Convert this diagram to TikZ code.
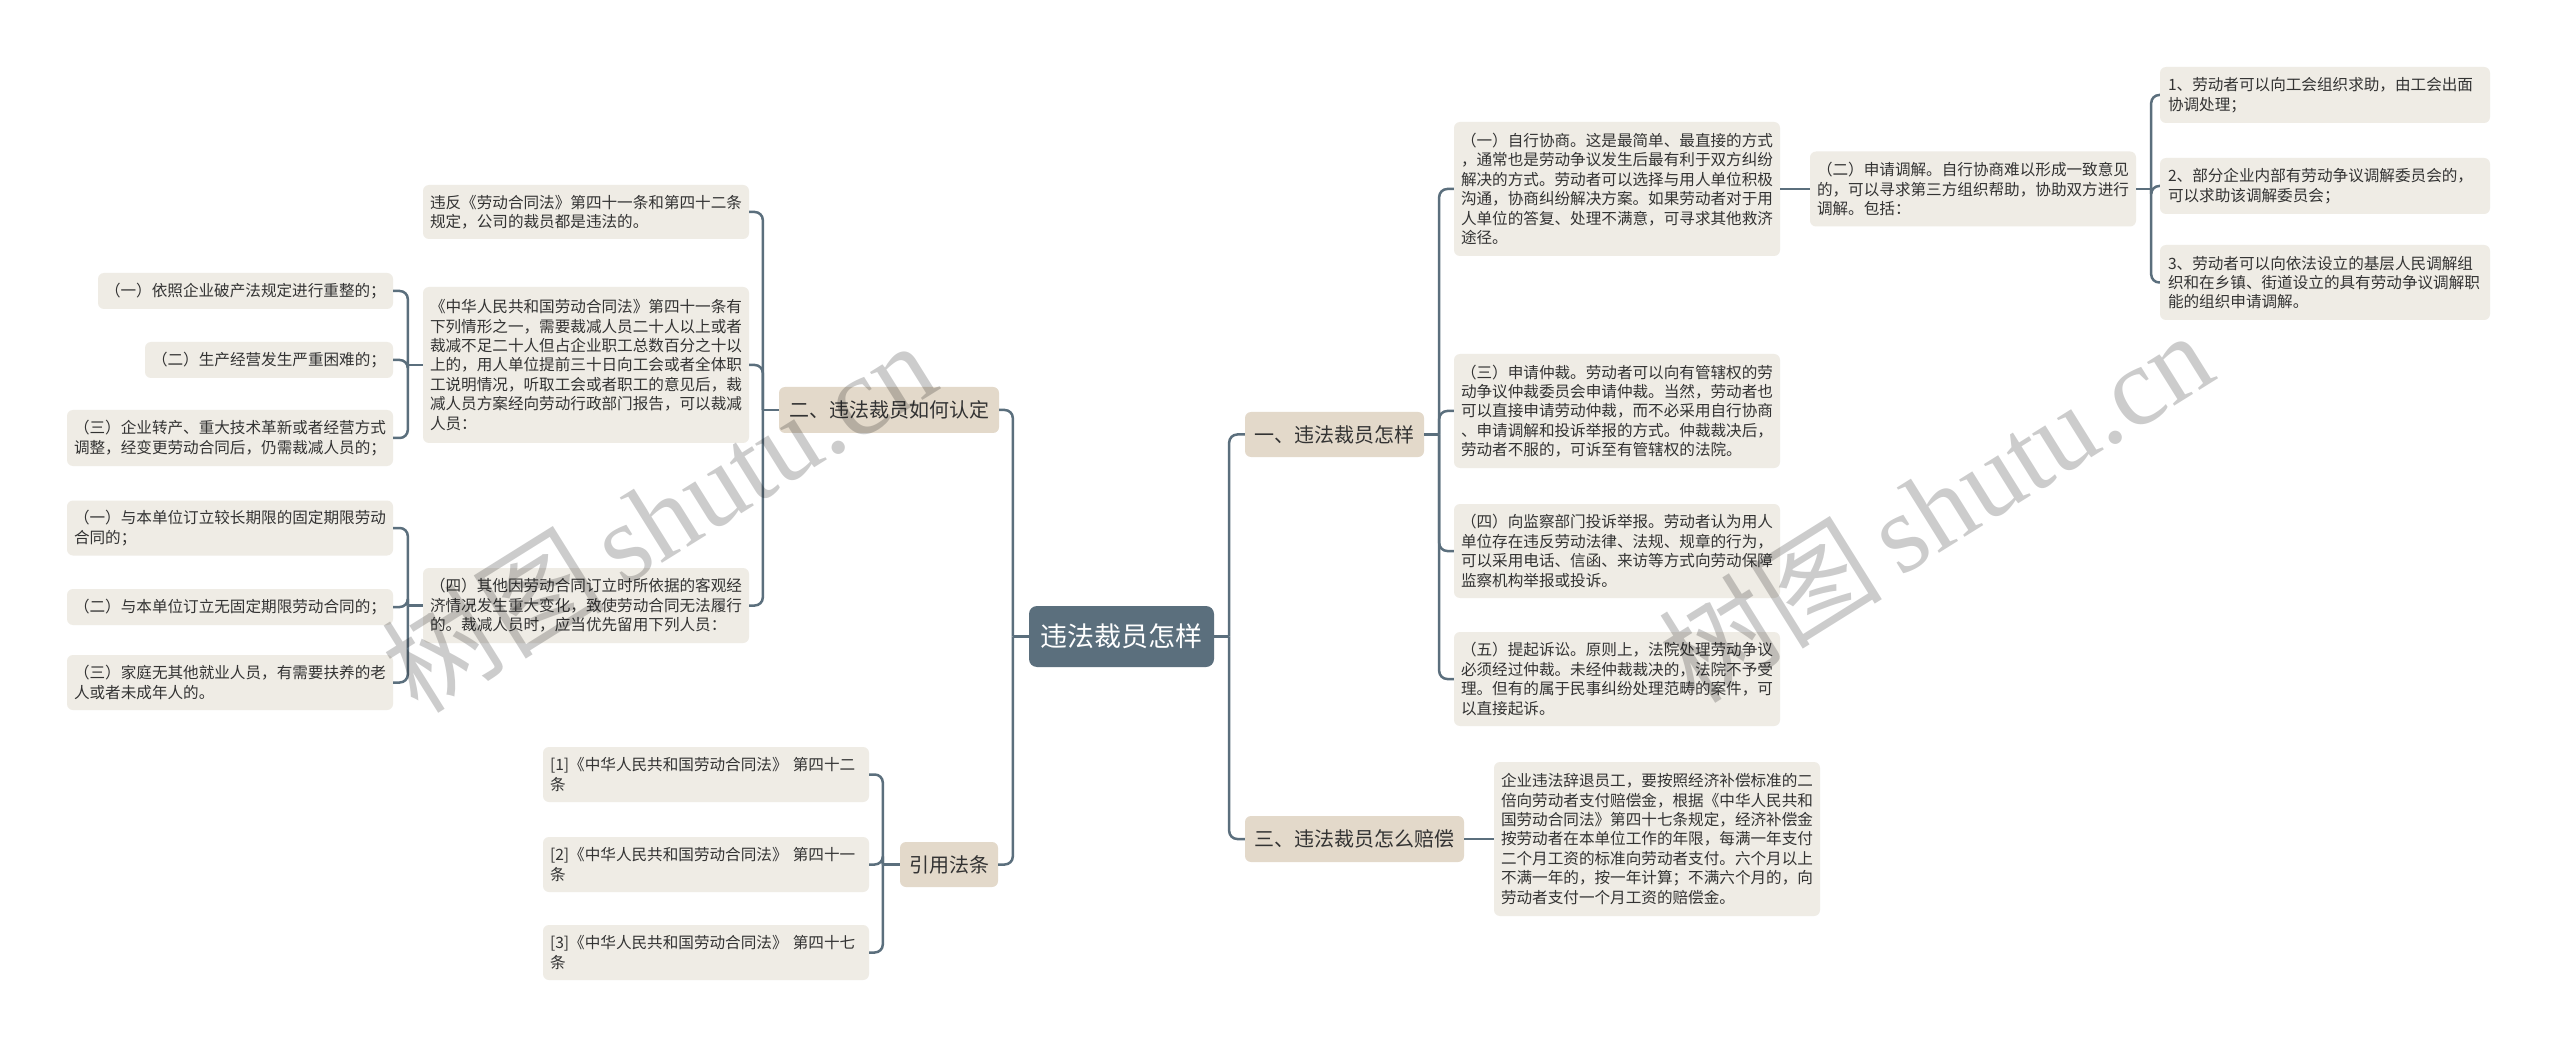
\documentclass[tikz,border=0pt]{standalone}
\usepackage{fontspec}
\setmainfont{Noto Sans CJK SC}
\newfontfamily\wmserif{Liberation Serif}
\definecolor{rootc}{HTML}{5B6F7D}
\definecolor{branchc}{HTML}{E3D9CA}
\definecolor{leafc}{HTML}{EFECE5}
\definecolor{txtc}{HTML}{333333}
\begin{document}
\begin{tikzpicture}[x=1pt,y=-1pt,
  box/.style={rounded corners=6pt, inner sep=0pt, text=txtc},
  leaf/.style={box, fill=leafc, align=left, font=\fontsize{15.6}{19.4}\selectfont},
  branch/.style={box, fill=branchc, align=center, font=\fontsize{20}{24}\selectfont},
  rootnode/.style={rounded corners=8pt, inner sep=0pt, fill=rootc, text=white, font=\fontsize{27}{32}\selectfont},
  conn/.style={draw=rootc, line width=2.5pt, rounded corners=8pt},
  wm/.style={text=black, text opacity=0.2, font=\fontsize{112}{116}\selectfont, inner sep=0pt}
]
\useasboundingbox (0,0) rectangle (2560,1048);
\fill[white] (0,0) rectangle (2560,1048);

% root and branches
\node[rootnode, minimum width=185pt, minimum height=61pt] (root) at (1121.5,636.5) {违法裁员怎样};
\node[branch, minimum width=179pt, minimum height=45pt] (b1) at (1334.5,434.5) {一、违法裁员怎样};
\node[branch, minimum width=219pt, minimum height=46pt] (b3) at (1354.5,839) {三、违法裁员怎么赔偿};
\node[branch, minimum width=220pt, minimum height=46pt] (b2) at (889,410) {二、违法裁员如何认定};
\node[branch, minimum width=98pt, minimum height=45pt] (b4) at (949,864.5) {引用法条};

% right leaves
\node[leaf, minimum width=326pt, minimum height=134pt, text width=312pt] (ra) at (1617,189) {（一）自行协商。这是最简单、最直接的方式\\，通常也是劳动争议发生后最有利于双方纠纷\\解决的方式。劳动者可以选择与用人单位积极\\沟通，协商纠纷解决方案。如果劳动者对于用\\人单位的答复、处理不满意，可寻求其他救济\\途径。};
\node[leaf, minimum width=326pt, minimum height=75pt, text width=312pt] (rb) at (1973,189) {（二）申请调解。自行协商难以形成一致意见\\的，可以寻求第三方组织帮助，协助双方进行\\调解。包括：};
\node[leaf, minimum width=330pt, minimum height=56pt, text width=314pt] (f1) at (2325,95) {1、劳动者可以向工会组织求助，由工会出面\\协调处理；};
\node[leaf, minimum width=330pt, minimum height=56pt, text width=314pt] (f2) at (2325,186) {2、部分企业内部有劳动争议调解委员会的，\\可以求助该调解委员会；};
\node[leaf, minimum width=330pt, minimum height=75pt, text width=314pt] (f3) at (2325,282.5) {3、劳动者可以向依法设立的基层人民调解组\\织和在乡镇、街道设立的具有劳动争议调解职\\能的组织申请调解。};
\node[leaf, minimum width=326pt, minimum height=114pt, text width=312pt] (rc) at (1617,411) {（三）申请仲裁。劳动者可以向有管辖权的劳\\动争议仲裁委员会申请仲裁。当然，劳动者也\\可以直接申请劳动仲裁，而不必采用自行协商\\、申请调解和投诉举报的方式。仲裁裁决后，\\劳动者不服的，可诉至有管辖权的法院。};
\node[leaf, minimum width=326pt, minimum height=94pt, text width=312pt] (rd) at (1617,551) {（四）向监察部门投诉举报。劳动者认为用人\\单位存在违反劳动法律、法规、规章的行为，\\可以采用电话、信函、来访等方式向劳动保障\\监察机构举报或投诉。};
\node[leaf, minimum width=326pt, minimum height=94pt, text width=312pt] (re) at (1617,679) {（五）提起诉讼。原则上，法院处理劳动争议\\必须经过仲裁。未经仲裁裁决的，法院不予受\\理。但有的属于民事纠纷处理范畴的案件，可\\以直接起诉。};
\node[leaf, minimum width=326pt, minimum height=154pt, text width=312pt] (d3) at (1657,839) {企业违法辞退员工，要按照经济补偿标准的二\\倍向劳动者支付赔偿金，根据《中华人民共和\\国劳动合同法》第四十七条规定，经济补偿金\\按劳动者在本单位工作的年限，每满一年支付\\二个月工资的标准向劳动者支付。六个月以上\\不满一年的，按一年计算；不满六个月的，向\\劳动者支付一个月工资的赔偿金。};

% left leaves
\node[leaf, minimum width=326pt, minimum height=54pt, text width=312pt] (la) at (586,212) {违反《劳动合同法》第四十一条和第四十二条\\规定，公司的裁员都是违法的。};
\node[leaf, minimum width=326pt, minimum height=156pt, text width=312pt] (lb) at (586,365) {《中华人民共和国劳动合同法》第四十一条有\\下列情形之一，需要裁减人员二十人以上或者\\裁减不足二十人但占企业职工总数百分之十以\\上的，用人单位提前三十日向工会或者全体职\\工说明情况，听取工会或者职工的意见后，裁\\减人员方案经向劳动行政部门报告，可以裁减\\人员：};
\node[leaf, minimum width=326pt, minimum height=75pt, text width=312pt] (lc) at (586,605.5) {（四）其他因劳动合同订立时所依据的客观经\\济情况发生重大变化，致使劳动合同无法履行\\的。裁减人员时，应当优先留用下列人员：};
\node[leaf, minimum width=295pt, minimum height=36pt, text width=281pt] (lb1) at (245.5,291) {（一）依照企业破产法规定进行重整的；};
\node[leaf, minimum width=248pt, minimum height=36pt, text width=234pt] (lb2) at (269,360) {（二）生产经营发生严重困难的；};
\node[leaf, minimum width=326pt, minimum height=56pt, text width=312pt] (lb3) at (230,438) {（三）企业转产、重大技术革新或者经营方式\\调整，经变更劳动合同后，仍需裁减人员的；};
\node[leaf, minimum width=326pt, minimum height=55pt, text width=312pt] (lc1) at (230,528) {（一）与本单位订立较长期限的固定期限劳动\\合同的；};
\node[leaf, minimum width=326pt, minimum height=36pt, text width=312pt] (lc2) at (230,607) {（二）与本单位订立无固定期限劳动合同的；};
\node[leaf, minimum width=326pt, minimum height=55pt, text width=312pt] (lc3) at (230,682.5) {（三）家庭无其他就业人员，有需要扶养的老\\人或者未成年人的。};
\node[leaf, minimum width=326pt, minimum height=55pt, text width=312pt] (r1) at (706,774.5) {[1]《中华人民共和国劳动合同法》 第四十二\\条};
\node[leaf, minimum width=326pt, minimum height=55pt, text width=312pt] (r2) at (706,864.5) {[2]《中华人民共和国劳动合同法》 第四十一\\条};
\node[leaf, minimum width=326pt, minimum height=55pt, text width=312pt] (r3) at (706,952.5) {[3]《中华人民共和国劳动合同法》 第四十七\\条};

% connectors
\draw[conn] (root.east) -- ++(15,0) coordinate (jr);
\draw[conn] (jr) |- (b1.west);
\draw[conn] (jr) |- (b3.west);
\draw[conn] (root.west) -- ++(-16,0) coordinate (jl);
\draw[conn] (jl) |- (b2.east);
\draw[conn] (jl) |- (b4.east);

\draw[conn] (b1.east) -- ++(15,0) coordinate (j1);
\draw[conn] (j1) |- (ra.west);
\draw[conn] (j1) |- (rc.west);
\draw[conn] (j1) |- (rd.west);
\draw[conn] (j1) |- (re.west);
\draw[conn] (ra.east) -- (rb.west);
\draw[conn] (rb.east) -- ++(15,0) coordinate (j2);
\draw[conn] (j2) |- (f1.west);
\draw[conn] (j2) |- (f2.west);
\draw[conn] (j2) |- (f3.west);
\draw[conn] (b3.east) -- (d3.west);

\draw[conn] (b2.west) -- ++(-16,0) coordinate (j3);
\draw[conn] (j3) |- (la.east);
\draw[conn] (j3) |- (lb.east);
\draw[conn] (j3) |- (lc.east);
\draw[conn] (lb.west) -- ++(-15,0) coordinate (j4);
\draw[conn] (j4) |- (lb1.east);
\draw[conn] (j4) |- (lb2.east);
\draw[conn] (j4) |- (lb3.east);
\draw[conn] (lc.west) -- ++(-15,0) coordinate (j5);
\draw[conn] (j5) |- (lc1.east);
\draw[conn] (j5) |- (lc2.east);
\draw[conn] (j5) |- (lc3.east);
\draw[conn] (b4.west) -- ++(-17,0) coordinate (j6);
\draw[conn] (j6) |- (r1.east);
\draw[conn] (j6) |- (r2.east);
\draw[conn] (j6) |- (r3.east);

% watermarks
\node[wm, rotate=32] (wm1) at (658,516) {树图\hspace{18pt}{\wmserif shutu.cn}};
\node[wm, rotate=32] (wm2) at (1935,506) {树图\hspace{18pt}{\wmserif shutu.cn}};
\end{tikzpicture}
\end{document}
